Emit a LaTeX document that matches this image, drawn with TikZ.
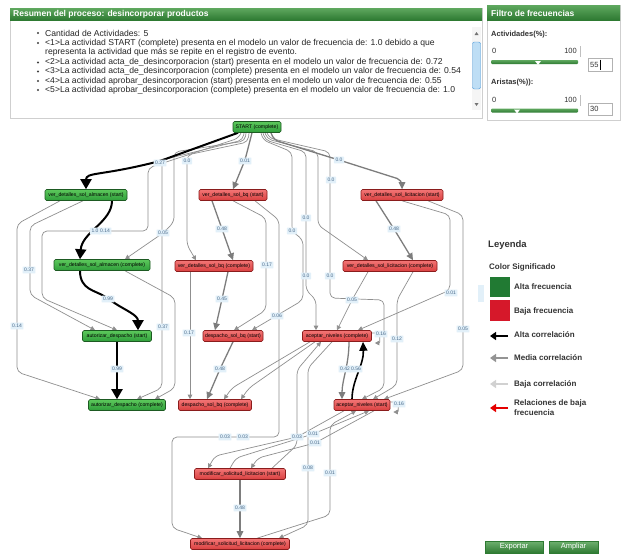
\documentclass[tikz,border=0pt]{standalone}
\usepackage{fontspec}
\setmainfont{Liberation Sans}
\usetikzlibrary{arrows.meta,calc}
\definecolor{gtop}{HTML}{5CC85C}
\definecolor{gbot}{HTML}{2F9E3A}
\definecolor{gbord}{HTML}{1D5A22}
\definecolor{rtop}{HTML}{F27575}
\definecolor{rbot}{HTML}{DA4040}
\definecolor{rbord}{HTML}{8A1C1C}
\definecolor{lblue}{HTML}{E2F0F9}
\definecolor{ltext}{HTML}{4A6A8A}
\definecolor{egray}{HTML}{8F8F8F}
\definecolor{mgray}{HTML}{7D7D7D}
\definecolor{htop}{HTML}{5FA85F}
\definecolor{hbot}{HTML}{2E7A32}
\definecolor{pbord}{HTML}{CFCFCF}
\definecolor{legG}{HTML}{217A33}
\definecolor{legR}{HTML}{D6182A}
\pgfdeclarelayer{back}
\pgfdeclarelayer{bg}
\pgfsetlayers{back,bg,main}
\tikzset{
  gn/.style={draw=gbord, top color=gtop, bottom color=gbot, rounded corners=1.5pt, inner xsep=1.5pt, inner ysep=0pt, minimum height=11pt, font=\fontsize{5.2}{6}\selectfont, text=black, line width=0.6pt},
  rn/.style={gn, draw=rbord, top color=rtop, bottom color=rbot},
  elab/.style={fill=lblue, text=ltext, font=\fontsize{5}{5.5}\selectfont, inner xsep=1.6pt, inner ysep=1.6pt, rounded corners=0.5pt},
  thinedge/.style={draw=egray, line width=0.7pt, rounded corners=5pt, -{Triangle[width=4.5pt,length=4.5pt]}},
  mededge/.style={draw=mgray, line width=1.3pt, rounded corners=5pt, -{Triangle[width=6.5pt,length=7pt]}},
  hiedge/.style={draw=black, line width=2pt, rounded corners=6pt, -{Triangle[width=11pt,length=10pt]}},
  ptext/.style={font=\fontsize{8.6}{9.5}\selectfont, text=black!85, anchor=west, inner sep=0pt},
  htext/.style={font=\fontsize{8.5}{9.5}\selectfont\bfseries, text=white, anchor=west, inner sep=0pt},
  ftext/.style={font=\fontsize{7.5}{8.5}\selectfont, text=black!80, inner sep=0pt},
  legtext/.style={font=\fontsize{8}{9.5}\selectfont\bfseries, text=black!80, anchor=west, inner sep=0pt, align=left},
  legarrow/.style={line width=2.6pt, -{Triangle[width=8pt,length=6pt]}},
  btn/.style={draw=hbot, top color=htop!90, bottom color=hbot, text=white, font=\fontsize{7.5}{8}\selectfont, inner sep=0pt},
}
\begin{document}
\begin{tikzpicture}[x=1pt,y=-1pt]
\useasboundingbox (0,0) rectangle (623,555);
\begin{pgfonlayer}{back}
\fill[white] (0,0) rectangle (623,555);
\end{pgfonlayer}

% ---------- summary panel ----------
\draw[pbord, fill=white] (10,8) rectangle (482,118);
\shade[top color=htop, bottom color=hbot] (10,8) rectangle (482,20);
\node[htext] (hdr1) at (13,14) {Resumen del proceso: desincorporar productos};
\foreach \yy in {33,43,62.5,71.5,81,90} {\fill[black!75] (38,\yy) circle (1.1pt);}
\node[ptext] (p0) at (45,33) {Cantidad de Actividades: 5};
\node[ptext] (p1) at (45,43) {<1>La actividad START (complete) presenta en el modelo un valor de frecuencia de: 1.0 debido a que};
\node[ptext] (p1b) at (45,52.7) {representa la actividad que más se repite en el registro de evento.};
\node[ptext] (p2) at (45,62.3) {<2>La actividad acta\_de\_desincorporacion (start) presenta en el modelo un valor de frecuencia de: 0.72};
\node[ptext] (p3) at (45,71.5) {<3>La actividad acta\_de\_desincorporacion (complete) presenta en el modelo un valor de frecuencia de: 0.54};
\node[ptext] (p4) at (45,80.8) {<4>La actividad aprobar\_desincorporacion (start) presenta en el modelo un valor de frecuencia de: 0.55};
\node[ptext] (p5) at (45,90) {<5>La actividad aprobar\_desincorporacion (complete) presenta en el modelo un valor de frecuencia de: 1.0};
% scrollbar
\fill[black!4] (472,27) rectangle (481,110);
\fill[black!55] (474.5,35) -- (478.5,35) -- (476.5,32) -- cycle;
\fill[black!55] (474.5,103) -- (478.5,103) -- (476.5,106) -- cycle;
\draw[draw={rgb,255:red,70;green,150;blue,215}, fill={rgb,255:red,190;green,222;blue,245}, rounded corners=2pt] (472.5,42) rectangle (480.5,89);

% ---------- filter panel ----------
\draw[pbord, fill=white] (487,5) rectangle (620,120);
\shade[top color=htop, bottom color=hbot] (487,5) rectangle (620,20);
\node[htext] (hdr2) at (491,13) {Filtro de frecuencias};
\node[ftext, font=\fontsize{7.5}{8.5}\selectfont\bfseries, anchor=west] (act) at (491,35) {Actividades(\%):};
\node[ftext, anchor=west] (a0) at (492,51) {0};
\node[ftext, anchor=east] (a100) at (577,51) {100};
\draw[black!25, line width=0.5pt] (580,46) -- (580,57);
\shade[top color=htop, bottom color=hbot, rounded corners=1pt] (491,60) rectangle (578,64);
\fill[white] (535,61) -- (541,61) -- (538,65) -- cycle;
\draw[black!30, fill=white] (588,58) rectangle (612,71);
\node[ftext, anchor=west] (v55) at (590,64.5) {55};
\draw[black, line width=0.5pt] (600.5,59.5) -- (600.5,69.5);
\node[ftext, font=\fontsize{7.5}{8.5}\selectfont\bfseries, anchor=west] (ari) at (491,83) {Aristas(\%)):};
\node[ftext, anchor=west] (b0) at (492,100) {0};
\node[ftext, anchor=east] (b100) at (577,100) {100};
\draw[black!25, line width=0.5pt] (580,95) -- (580,106);
\shade[top color=htop, bottom color=hbot, rounded corners=1pt] (491,108.5) rectangle (578,112.5);
\fill[white] (514,109.5) -- (520,109.5) -- (517,113.5) -- cycle;
\draw[black!30, fill=white] (588,103) rectangle (612,115.5);
\node[ftext, anchor=west] (v30) at (590,109.3) {30};

% ---------- graph nodes ----------
\node[gn, minimum width=48pt] (S) at (257,127) {START (complete)};
\node[gn, minimum width=82pt] (A1) at (86,195) {ver\_detalles\_sol\_almacen (start)};
\node[rn, minimum width=68pt] (B1) at (233,195) {ver\_detalles\_sol\_bq (start)};
\node[rn, minimum width=82pt] (L1) at (402,195) {ver\_detalles\_sol\_licitacion (start)};
\node[gn, minimum width=96pt] (A2) at (102,265) {ver\_detalles\_sol\_almacen (complete)};
\node[rn, minimum width=78pt] (B2) at (214,266) {ver\_detalles\_sol\_bq (complete)};
\node[rn, minimum width=94pt] (L2) at (390,266) {ver\_detalles\_sol\_licitacion (complete)};
\node[gn, minimum width=69pt] (A3) at (117,336) {autorizar\_despacho (start)};
\node[rn, minimum width=60pt] (B3) at (233,336) {despacho\_sol\_bq (start)};
\node[rn, minimum width=69pt] (N1) at (337,336) {aceptar\_niveles (complete)};
\node[gn, minimum width=77pt] (A4) at (127,405) {autorizar\_despacho (complete)};
\node[rn, minimum width=73pt] (B4) at (215,405) {despacho\_sol\_bq (complete)};
\node[rn, minimum width=56pt] (N2) at (362,405) {aceptar\_niveles (start)};
\node[rn, minimum width=91pt] (M1) at (240,474) {modificar\_solicitud\_licitacion (start)};
\node[rn, minimum width=99pt] (M2) at (240,544) {modificar\_solicitud\_licitacion (complete)};

% ---------- edges ----------
\begin{pgfonlayer}{bg}
% thin gray, left fan
\draw[thinedge] ([xshift=-16pt]S.south) -- (239,138) -- (148,168) -- (148,231) -- (42,231) -- (42,298) -- (A3.north);
\draw[thinedge] ([xshift=-13pt]S.south) -- (243,140) -- (162,160) -- (162,388) -- ([xshift=10pt]A4.north);
\draw[thinedge] ([xshift=-11pt]S.south) -- (245,141) -- (174,152) -- (174,222) -- (163,233) -- ([xshift=23pt]A2.north);
\draw[thinedge] ([xshift=-8pt]S.south) -- (248,142) -- (187,155) -- (187,245) -- ([xshift=-18pt]B2.north);
\draw[thinedge] ([xshift=-3pt]A1.south) -- (30,226) -- (30,295) -- ([xshift=-22pt]A3.north);
\draw[thinedge] ([xshift=-26pt]A1.south) -- (17,224) -- (17,372) -- ([xshift=-27pt]A4.north);
\draw[thinedge] ([xshift=23pt]A2.south) -- (175,298) -- (175,388) -- ([xshift=28pt]A4.north);
\draw[thinedge] ([xshift=-24pt]B2.south) -- ([xshift=-25pt]B4.north);
% thin gray, middle / right
\draw[thinedge] (B1.south) -- (266,218) -- (266,310) -- ([xshift=1pt]B3.north);
\draw[thinedge] ([xshift=22pt]B1.south) -- (279,220) -- (279,437) -- (172,437) -- (172,528) -- ([xshift=-38pt]M2.north);
\draw[thinedge] ([xshift=4pt]S.south) -- (263,140) -- (292,152) -- (292,231) -- (303,240) -- (303,300) -- ([xshift=19pt]B3.north);
\draw[thinedge] ([xshift=6pt]S.south) -- (265,140) -- (306,152) -- (306,290) -- (316,300) -- ([xshift=-21pt]N1.north);
\draw[thinedge] ([xshift=8pt]S.south) -- (267,139) -- (318,152) -- (318,225) -- ([xshift=-22pt]L2.north);
\draw[thinedge] ([xshift=10pt]S.south) -- (269,138) -- (330,152) -- (330,298) -- (384,300) -- (384,388) -- (N2.north);
\draw[thinedge] (L1.south) -- (450,215) -- (450,290) -- ([xshift=21pt]N1.north);
\draw[thinedge] ([xshift=26pt]L1.south) -- (463,215) -- (463,370) -- ([xshift=22pt]N2.north);
\draw[thinedge] ([xshift=-22pt]L2.south) -- (352,300) -- (N1.north);
\draw[thinedge] ([xshift=23pt]L2.south) -- (397,300) -- (397,385) -- ([xshift=11pt]N2.north);
\draw[thinedge] ([xshift=-27pt]N1.south) -- (232,388) -- ([xshift=9pt]B4.north);
\draw[thinedge] ([xshift=-22pt]N1.south) -- (249,388) -- ([xshift=26pt]B4.north);
% lower part
\draw[thinedge] ([xshift=-5pt]N1.south) -- (308,368) -- (308,525) -- ([xshift=39pt]M2.north);
\draw[thinedge] ([xshift=32pt]M1.north) -- (297,445) -- (297,370) -- ([xshift=-16pt]N1.south);
\draw[thinedge] ([xshift=17pt]M2.north) -- (330,515) -- (330,425) -- ([xshift=-6pt]N2.south);
\draw[thinedge] ([xshift=-18pt]N2.south) -- (297,437) -- (215,456) -- ([xshift=-32pt]M1.north);
\draw[thinedge] ([xshift=12pt]N2.south) -- (315,443) -- (258,458) -- ([xshift=11pt]M1.north);
\draw[thinedge] ([xshift=-10pt]M1.north) -- (236,458) -- (313,434) -- ([xshift=7pt]N2.south);
% self loops
\draw[thinedge, rounded corners=1pt] ([yshift=3pt]N1.east) -- ++(8pt,0) -- ++(0,-10pt) -- ++(-5pt,0);
\draw[thinedge, rounded corners=1pt] ([yshift=3pt]N2.east) -- ++(8pt,0) -- ++(0,-10pt) -- ++(-5pt,0);
% medium gray
\draw[mededge] ([xshift=-5pt]S.south) -- (245,160) -- (B1.north);
\draw[mededge] ([xshift=14pt]S.south) -- (274,140) -- (339,160) -- (402,180) -- (L1.north);
\draw[mededge] ([xshift=-21pt]B1.south) -- (222,229) -- ([xshift=19pt]B2.north);
\draw[mededge] ([xshift=-26pt]L1.south) -- (394,229) -- ([xshift=23pt]L2.north);
\draw[mededge] ([xshift=14pt]B2.south) -- (222,299) -- ([xshift=-18pt]B3.north);
\draw[mededge] (B3.south) -- (220,369) -- ([xshift=-8pt]B4.north);
\draw[mededge] ([xshift=12pt]N1.south) .. controls (349,365) and (342,380) .. ([xshift=-20pt]N2.north);
\draw[mededge] (M1.south) -- (M2.north);
% black
\draw[hiedge] ([xshift=-19pt]S.south) -- (160,161) .. controls (100,176) and (86,172) .. (A1.north);
\draw[hiedge] ([xshift=26pt]A1.south) .. controls (112,222) and (82,232) .. ([xshift=-22pt]A2.north);
\draw[hiedge] ([xshift=-22pt]A2.south) .. controls (80,290) and (95,290) .. (110,300) .. controls (125,310) and (138,315) .. ([xshift=21pt]A3.north);
\draw[hiedge] (A3.south) -- ([xshift=-10pt]A4.north);
\draw[hiedge, line width=1.6pt, -{Triangle[width=8pt,length=9pt]}] ([xshift=-10pt]N2.north) .. controls (352,380) and (364,365) .. ([xshift=26pt]N1.south);
\end{pgfonlayer}

% ---------- edge labels ----------
\node[elab] (l01) at (160,163) {0.27};
\node[elab] (l02) at (187,161) {0.0};
\node[elab] (l03) at (245,161) {0.01};
\node[elab] (l04) at (339,160) {0.0};
\node[elab] (l05) at (331,180) {0.0};
\node[elab] (l06) at (306,218) {0.0};
\node[elab] (l07) at (292,231) {0.0};
\node[elab] (l08) at (95,231) {1.0};
\node[elab] (l09) at (105,231) {0.14};
\node[elab] (l10) at (163,233) {0.05};
\node[elab] (l11) at (222,229) {0.48};
\node[elab] (l12) at (394,229) {0.48};
\node[elab] (l13) at (29,270) {0.37};
\node[elab] (l14) at (267,265) {0.17};
\node[elab] (l15) at (306,276) {0.0};
\node[elab] (l16) at (330,276) {0.0};
\node[elab] (l17) at (108,299) {0.99};
\node[elab] (l18) at (222,299) {0.45};
\node[elab] (l19) at (352,300) {0.05};
\node[elab] (l20) at (451,293) {0.01};
\node[elab] (l21) at (17,326) {0.14};
\node[elab] (l22) at (163,327) {0.37};
\node[elab] (l23) at (189,333) {0.17};
\node[elab] (l24) at (277,316) {0.06};
\node[elab] (l25) at (397,339) {0.12};
\node[elab] (l26) at (463,329) {0.05};
\node[elab] (l27) at (381,334) {0.16};
\node[elab] (l28) at (345,369) {0.42};
\node[elab] (l29) at (356,369) {0.56};
\node[elab] (l30) at (117,369) {0.99};
\node[elab] (l31) at (220,369) {0.48};
\node[elab] (l32) at (399,404) {0.16};
\node[elab] (l33) at (225,437) {0.03};
\node[elab] (l34) at (243,437) {0.03};
\node[elab] (l35) at (313,434) {0.01};
\node[elab] (l36) at (297,437) {0.03};
\node[elab] (l37) at (315,443) {0.01};
\node[elab] (l38) at (308,468) {0.08};
\node[elab] (l39) at (330,473) {0.01};
\node[elab] (l40) at (240,508) {0.48};
\fill[lblue] (478,285) rectangle (484,302);

% ---------- legend ----------
\node[legtext, font=\fontsize{9.5}{10}\selectfont\bfseries] (ley) at (488,245) {Leyenda};
\node[legtext] (csig) at (489,267) {Color Significado};
\fill[legG] (490,277) rectangle (510,297);
\node[legtext] (lg1) at (514,287) {Alta frecuencia};
\fill[legR] (490,300) rectangle (510,321);
\node[legtext] (lg2) at (514,311) {Baja frecuencia};
\coordinate (ka1) at (508,336); \coordinate (kb1) at (490,336);
\draw[legarrow, black] (ka1) -- (kb1);
\node[legtext] (lg3) at (514,335) {Alta correlación};
\coordinate (ka2) at (508,358); \coordinate (kb2) at (490,358);
\draw[legarrow, black!42] (ka2) -- (kb2);
\node[legtext] (lg4) at (514,358) {Media correlación};
\coordinate (ka3) at (508,384); \coordinate (kb3) at (490,384);
\draw[legarrow, black!18] (ka3) -- (kb3);
\node[legtext] (lg5) at (514,384) {Baja correlación};
\coordinate (ka4) at (508,408); \coordinate (kb4) at (490,408);
\draw[legarrow, red!90!black] (ka4) -- (kb4);
\node[legtext] (lg6) at (514,407.5) {Relaciones de baja\\frecuencia};

% ---------- buttons ----------
\node[btn, minimum width=58pt, minimum height=12pt] (bexp) at (514,547) {Exportar};
\node[btn, minimum width=49pt, minimum height=12pt] (bamp) at (573.5,547) {Ampliar};
\end{tikzpicture}
\end{document}
